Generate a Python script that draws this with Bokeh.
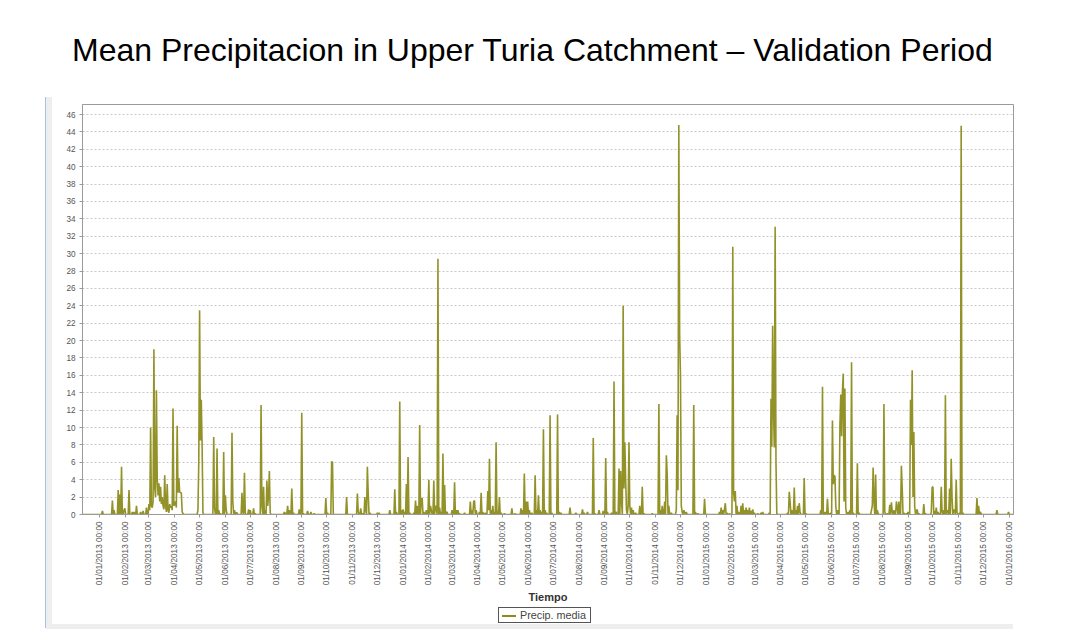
import math
import pandas as pd
from bokeh.plotting import figure
from bokeh.layouts import column
from bokeh.models import (ColumnDataSource, FixedTicker, DatetimeTickFormatter, Range1d, Div)
from bokeh.embed import file_html
from bokeh.resources import INLINE

title_text = "Mean Precipitacion in Upper Turia Catchment \u2013 Validation Period"
series_name = "Precip. media"
x_label = "Tiempo"

period_start = "2012-12-11"
period_end = "2016-01-06"

# rainy days (MM-DD) and daily mean precipitation; all other days are 0
days_2013 = ["01-04", "01-16", "01-18", "01-23", "01-25", "01-27", "01-30", "01-31",
             "02-05", "02-09", "02-11", "02-14", "02-19", "02-22", "02-26",
             "03-01", "03-02", "03-03", "03-04", "03-05", "03-06", "03-07", "03-08", "03-09", "03-10",
             "03-11", "03-12", "03-13", "03-14", "03-15", "03-16", "03-17", "03-18", "03-19", "03-20",
             "03-21", "03-22", "03-23", "03-24", "03-25", "03-26", "03-27", "03-28", "03-29", "03-30", "03-31",
             "04-01", "04-02", "04-03", "04-04", "04-05", "04-06", "04-07", "04-08", "04-09", "04-10", "04-11",
             "04-29", "04-30", "05-01", "05-02", "05-03", "05-04", "05-05",
             "05-18", "05-19", "05-22", "05-24", "05-26", "05-30",
             "06-01", "06-02", "06-09", "06-10", "06-12", "06-14", "06-15", "06-21", "06-22", "06-24", "06-25", "06-29",
             "07-01", "07-05", "07-07", "07-14", "07-15", "07-17", "07-19", "07-21", "07-22", "07-23", "07-24", "07-25",
             "08-11", "08-13", "08-15", "08-17", "08-20", "08-22", "08-29",
             "09-01", "09-03", "09-08", "09-12", "09-16", "09-30",
             "10-02", "10-07", "10-08", "10-25",
             "11-07", "11-08", "11-11", "11-13", "11-16", "11-17", "11-19", "11-20", "11-22",
             "12-01", "12-03", "12-16", "12-22", "12-24", "12-28", "12-30"]
precip_2013 = [0.4, 1.6, 0.5, 2.8, 2.3, 5.5, 0.5, 0.7,
               2.8, 0.3, 0.3, 1.0, 0.3, 0.4, 0.8,
               1.2, 0.5, 10.0, 1.0, 0.8, 1.5, 19.0, 3.0, 2.0, 14.3,
               4.0, 2.2, 3.6, 1.5, 3.2, 1.2, 2.0, 1.0, 0.6, 4.5,
               1.0, 0.3, 3.5, 0.5, 0.2, 1.2, 0.8, 1.0, 0.5, 12.2, 1.0,
               1.2, 1.5, 0.8, 10.2, 2.5, 4.2, 2.6, 2.5, 2.5, 0.3, 0.1,
               0.5, 6.0, 23.5, 8.5, 13.2, 8.0, 0.2,
               8.9, 0.8, 7.6, 0.5, 0.1, 7.2,
               2.2, 0.6, 9.4, 1.5, 0.5, 0.2, 0.2, 2.5, 0.3, 4.8, 0.2, 0.6,
               0.5, 0.7, 0.1, 12.6, 1.0, 3.2, 0.5, 3.9, 1.0, 2.0, 5.0, 0.2,
               0.3, 0.2, 1.0, 0.5, 3.0, 0.2, 0.6,
               11.7, 0.1, 0.4, 0.3, 0.1, 1.9,
               0.2, 6.1, 6.0, 2.0,
               2.4, 0.3, 0.7, 0.1, 2.0, 0.5, 5.5, 2.5, 0.2,
               0.2, 0.2, 0.5, 2.9, 0.3, 13.0, 0.5]

days_2014 = ["01-01", "01-03", "01-05", "01-07", "01-09", "01-14", "01-16", "01-18", "01-21", "01-23", "01-24", "01-26", "01-29",
             "02-01", "02-03", "02-04", "02-07", "02-09", "02-10", "02-12", "02-14", "02-16", "02-18", "02-20", "02-22", "02-23",
             "03-01", "03-04", "03-06", "03-08", "03-10", "03-16", "03-23", "03-25", "03-27", "03-28", "03-30",
             "04-03", "04-05", "04-07", "04-10", "04-13", "04-14", "04-15", "04-17", "04-19", "04-21", "04-23", "04-25", "04-27", "04-29",
             "05-03", "05-12", "05-16", "05-23", "05-25", "05-27", "05-29", "05-31",
             "06-02", "06-05", "06-09", "06-11", "06-13", "06-15", "06-17", "06-19", "06-21", "06-23", "06-27", "06-29",
             "07-06", "07-08", "07-10", "07-21", "07-28",
             "08-05", "08-07", "08-11", "08-18", "08-20", "08-25", "08-30",
             "09-02", "09-04", "09-09", "09-12", "09-14", "09-15", "09-18", "09-20", "09-21", "09-23", "09-24", "09-25", "09-26", "09-27", "09-29", "09-30",
             "10-01", "10-03", "10-05", "10-08", "10-13", "10-16", "10-18", "10-28",
             "11-05", "11-07", "11-09", "11-12", "11-14", "11-15", "11-17", "11-20", "11-26", "11-27", "11-28", "11-29", "11-30",
             "12-01", "12-02", "12-03", "12-05", "12-06", "12-08", "12-17", "12-19", "12-22", "12-30", "12-31"]
precip_2014 = [0.6, 0.3, 3.5, 6.6, 0.2, 0.2, 1.6, 1.0, 10.3, 1.8, 1.9, 0.3, 0.5,
               4.0, 1.0, 0.5, 3.9, 1.0, 0.8, 29.4, 0.8, 0.3, 7.0, 3.4, 0.2, 0.3,
               0.5, 3.7, 0.5, 0.5, 0.1, 0.2, 1.5, 0.5, 1.5, 1.6, 0.5,
               0.3, 2.5, 0.3, 0.2, 2.7, 0.5, 6.4, 0.5, 1.0, 0.3, 8.3, 0.4, 2.0, 0.2,
               0.1, 0.7, 0.1, 0.7, 0.5, 4.7, 1.5, 1.5,
               0.5, 0.2, 4.5, 0.5, 2.2, 0.5, 0.3, 9.8, 0.5, 0.2, 11.4, 0.2,
               11.5, 0.3, 0.2, 0.8, 0.2,
               0.6, 0.2, 0.3, 8.8, 0.1, 0.5, 0.4,
               6.5, 0.3, 0.2, 15.3, 0.3, 0.2, 5.3, 5.0, 1.5, 24.0, 3.0, 8.3, 4.0, 0.5, 1.0, 8.3,
               1.0, 0.8, 0.5, 0.2, 1.0, 3.2, 0.1, 0.1,
               12.7, 0.5, 1.0, 1.5, 6.8, 4.7, 1.0, 0.2, 0.5, 11.4, 2.8, 44.8, 20.7,
               16.1, 1.0, 0.3, 0.5, 0.2, 0.3, 12.6, 0.3, 0.1, 1.8, 0.1]

days_2015 = ["01-17", "01-19", "01-21", "01-23", "01-24", "01-26", "01-29",
             "02-02", "02-03", "02-04", "02-05", "02-07", "02-09", "02-12", "02-14", "02-16", "02-18", "02-20", "02-22", "02-24", "02-26", "02-28",
             "03-04", "03-08", "03-10", "03-18", "03-20", "03-21", "03-22", "03-23", "03-24", "03-25", "03-26", "03-27",
             "04-09", "04-11", "04-12", "04-14", "04-16", "04-17", "04-19", "04-21", "04-23", "04-24", "04-29",
             "05-01", "05-19", "05-21", "05-24", "05-27", "05-29", "05-31",
             "06-02", "06-03", "06-04", "06-05", "06-06", "06-08", "06-11", "06-12", "06-13", "06-14", "06-15", "06-16", "06-17", "06-18",
             "06-21", "06-23", "06-25", "06-27",
             "07-02", "07-04", "07-19", "07-20", "07-21", "07-22", "07-24", "07-26", "07-27",
             "08-03", "08-04", "08-07", "08-10", "08-12", "08-13", "08-15", "08-18", "08-19", "08-21", "08-24", "08-25", "08-27", "08-30",
             "09-01", "09-04", "09-05", "09-06", "09-07", "09-08", "09-09", "09-11", "09-12", "09-14", "09-20", "09-22", "09-29", "09-30",
             "10-01", "10-03", "10-05", "10-07", "10-09", "10-11", "10-12", "10-14", "10-16", "10-18", "10-19", "10-21", "10-23", "10-24",
             "10-26", "10-27", "10-29", "10-30",
             "11-02", "11-04", "11-06", "11-23", "11-25", "11-27", "11-28",
             "12-17", "12-31"]
precip_2015 = [0.3, 0.8, 0.5, 0.6, 1.3, 0.2, 0.1,
               30.8, 2.5, 1.5, 2.7, 1.0, 0.3, 1.0, 1.3, 0.5, 0.8, 0.5, 0.8, 0.4, 0.6, 0.2,
               0.1, 0.2, 0.3, 0.2, 13.3, 7.8, 21.7, 12.0, 7.7, 33.1, 6.0, 0.1,
               0.2, 2.6, 1.5, 0.5, 0.1, 3.1, 0.5, 1.0, 1.3, 0.3, 4.2,
               0.1, 0.5, 14.7, 0.3, 1.8, 0.1, 0.2,
               10.8, 3.5, 4.5, 4.4, 1.0, 0.5, 10.3, 13.8, 9.0, 14.1, 16.2, 1.5, 14.5, 0.8,
               0.3, 0.5, 17.5, 0.2,
               5.9, 0.2, 0.5, 1.0, 5.4, 1.5, 4.6, 0.5, 0.1,
               12.7, 0.3, 0.1, 1.1, 1.4, 0.3, 0.5, 1.5, 0.8, 1.5, 5.6, 3.0, 0.2, 0.1,
               0.3, 13.2, 8.0, 16.6, 2.0, 9.5, 1.0, 0.2, 0.6, 0.1, 1.2, 0.1, 0.2, 3.1,
               3.2, 0.4, 0.8, 0.3, 0.1, 3.2, 0.3, 0.5, 13.7, 0.5, 0.3, 3.0, 6.4, 2.0,
               0.5, 0.5, 4.0, 0.2,
               0.2, 44.7, 0.2, 1.9, 1.0, 0.3, 0.1,
               0.5, 0.3]

tick_months = pd.date_range("2013-01-01", "2016-01-01", freq="MS")
y_ticks = list(range(0, 47, 2))

# daily series
daily = pd.Series(0.0, index=pd.date_range(period_start, period_end, freq="D"))
for year, days, vals in (("2013", days_2013, precip_2013),
                         ("2014", days_2014, precip_2014),
                         ("2015", days_2015, precip_2015)):
    for d, v in zip(days, vals):
        daily[pd.Timestamp(year + "-" + d)] = v

src = ColumnDataSource(dict(date=daily.index, precip=daily.values))

FONT = "Liberation Sans"
LINE_COLOR = "#8c8c1e"

title_div = Div(
    text=('<div style="padding:32px 0 0 72px;margin:0;font-family:\'Liberation Sans\',Arial,sans-serif;'
          'font-size:32px;line-height:36px;color:#000;white-space:nowrap;">' + title_text + '</div>'),
    width=1075, height=84, margin=(0, 0, 0, 0))

p = figure(frame_width=931, frame_height=410, output_backend="svg", toolbar_location=None,
           x_axis_type="datetime",
           x_range=Range1d(pd.Timestamp(period_start), pd.Timestamp(period_end)),
           y_range=Range1d(0, 47.15),
           min_border_left=82, min_border_right=62, min_border_top=20, min_border_bottom=90,
           background_fill_color="white", border_fill_alpha=0, margin=(0, 0, 0, 0))
p.outline_line_color = "#9a9a9a"
p.outline_line_width = 1

r = p.line(x="date", y="precip", source=src, line_color=LINE_COLOR, line_width=1.6, line_alpha=0.95)

# axes
fmt = "%d/%m/%Y %H:%M"
p.xaxis.ticker = FixedTicker(ticks=[t.value / 1e6 for t in tick_months])
p.xaxis.formatter = DatetimeTickFormatter(microseconds=fmt, milliseconds=fmt, seconds=fmt, minsec=fmt,
                                          minutes=fmt, hourmin=fmt, hours=fmt, days=fmt, months=fmt, years=fmt)
p.xaxis.major_label_orientation = math.pi / 2
p.yaxis.ticker = FixedTicker(ticks=y_ticks)
for ax in (p.xaxis[0], p.yaxis[0]):
    ax.major_label_text_font = FONT
    ax.major_label_text_font_size = "8.2px"
    ax.major_label_text_color = "#555555"
    ax.axis_line_color = "#9a9a9a"
    ax.major_tick_line_color = "#9a9a9a"
    ax.major_tick_out = 3
    ax.major_tick_in = 0
    ax.minor_tick_line_color = None
    ax.major_label_standoff = 4
p.xaxis.axis_label = x_label
p.xaxis.axis_label_text_font = FONT
p.xaxis.axis_label_text_font_style = "bold"
p.xaxis.axis_label_text_font_size = "11px"
p.xaxis.axis_label_text_color = "#333333"
p.xaxis.axis_label_standoff = 3

p.xgrid.visible = False
p.ygrid.grid_line_color = "#c8c8c8"
p.ygrid.grid_line_dash = "2 2"
p.ygrid.grid_line_width = 1

# legend box (below the axis, as in the original chart window)
legend_div = Div(
    text=('<div style="margin:1px 0 0 498px;display:inline-block;border:1px solid #555;'
          'padding:1px 4px 1px 3px;font-family:\'Liberation Sans\',Arial,sans-serif;font-size:10.8px;'
          'line-height:12px;color:#444;white-space:nowrap;background:#fff;">'
          '<span style="display:inline-block;width:14px;height:0;border-top:2px solid ' + LINE_COLOR + ';'
          'vertical-align:middle;margin-right:4px;"></span>' + series_name + '</div>'),
    width=1075, height=29, margin=(0, 0, 0, 0))

# light frame of the embedded chart window (blue edge + grey strips), drawn as page background
frame_bg = ("linear-gradient(#a9c1e6,#a9c1e6) 45px 97px / 1px 531px no-repeat,"
            "linear-gradient(#eeeeee,#eeeeee) 46px 97px / 6px 531px no-repeat,"
            "linear-gradient(#eeeeee,#eeeeee) 46px 624px / 967px 5px no-repeat,"
            "#ffffff")

layout = column(title_div, p, legend_div, spacing=0, margin=(0, 0, 0, 0),
                styles={"background": frame_bg})
open("out.html", "w").write(file_html(layout, INLINE))
